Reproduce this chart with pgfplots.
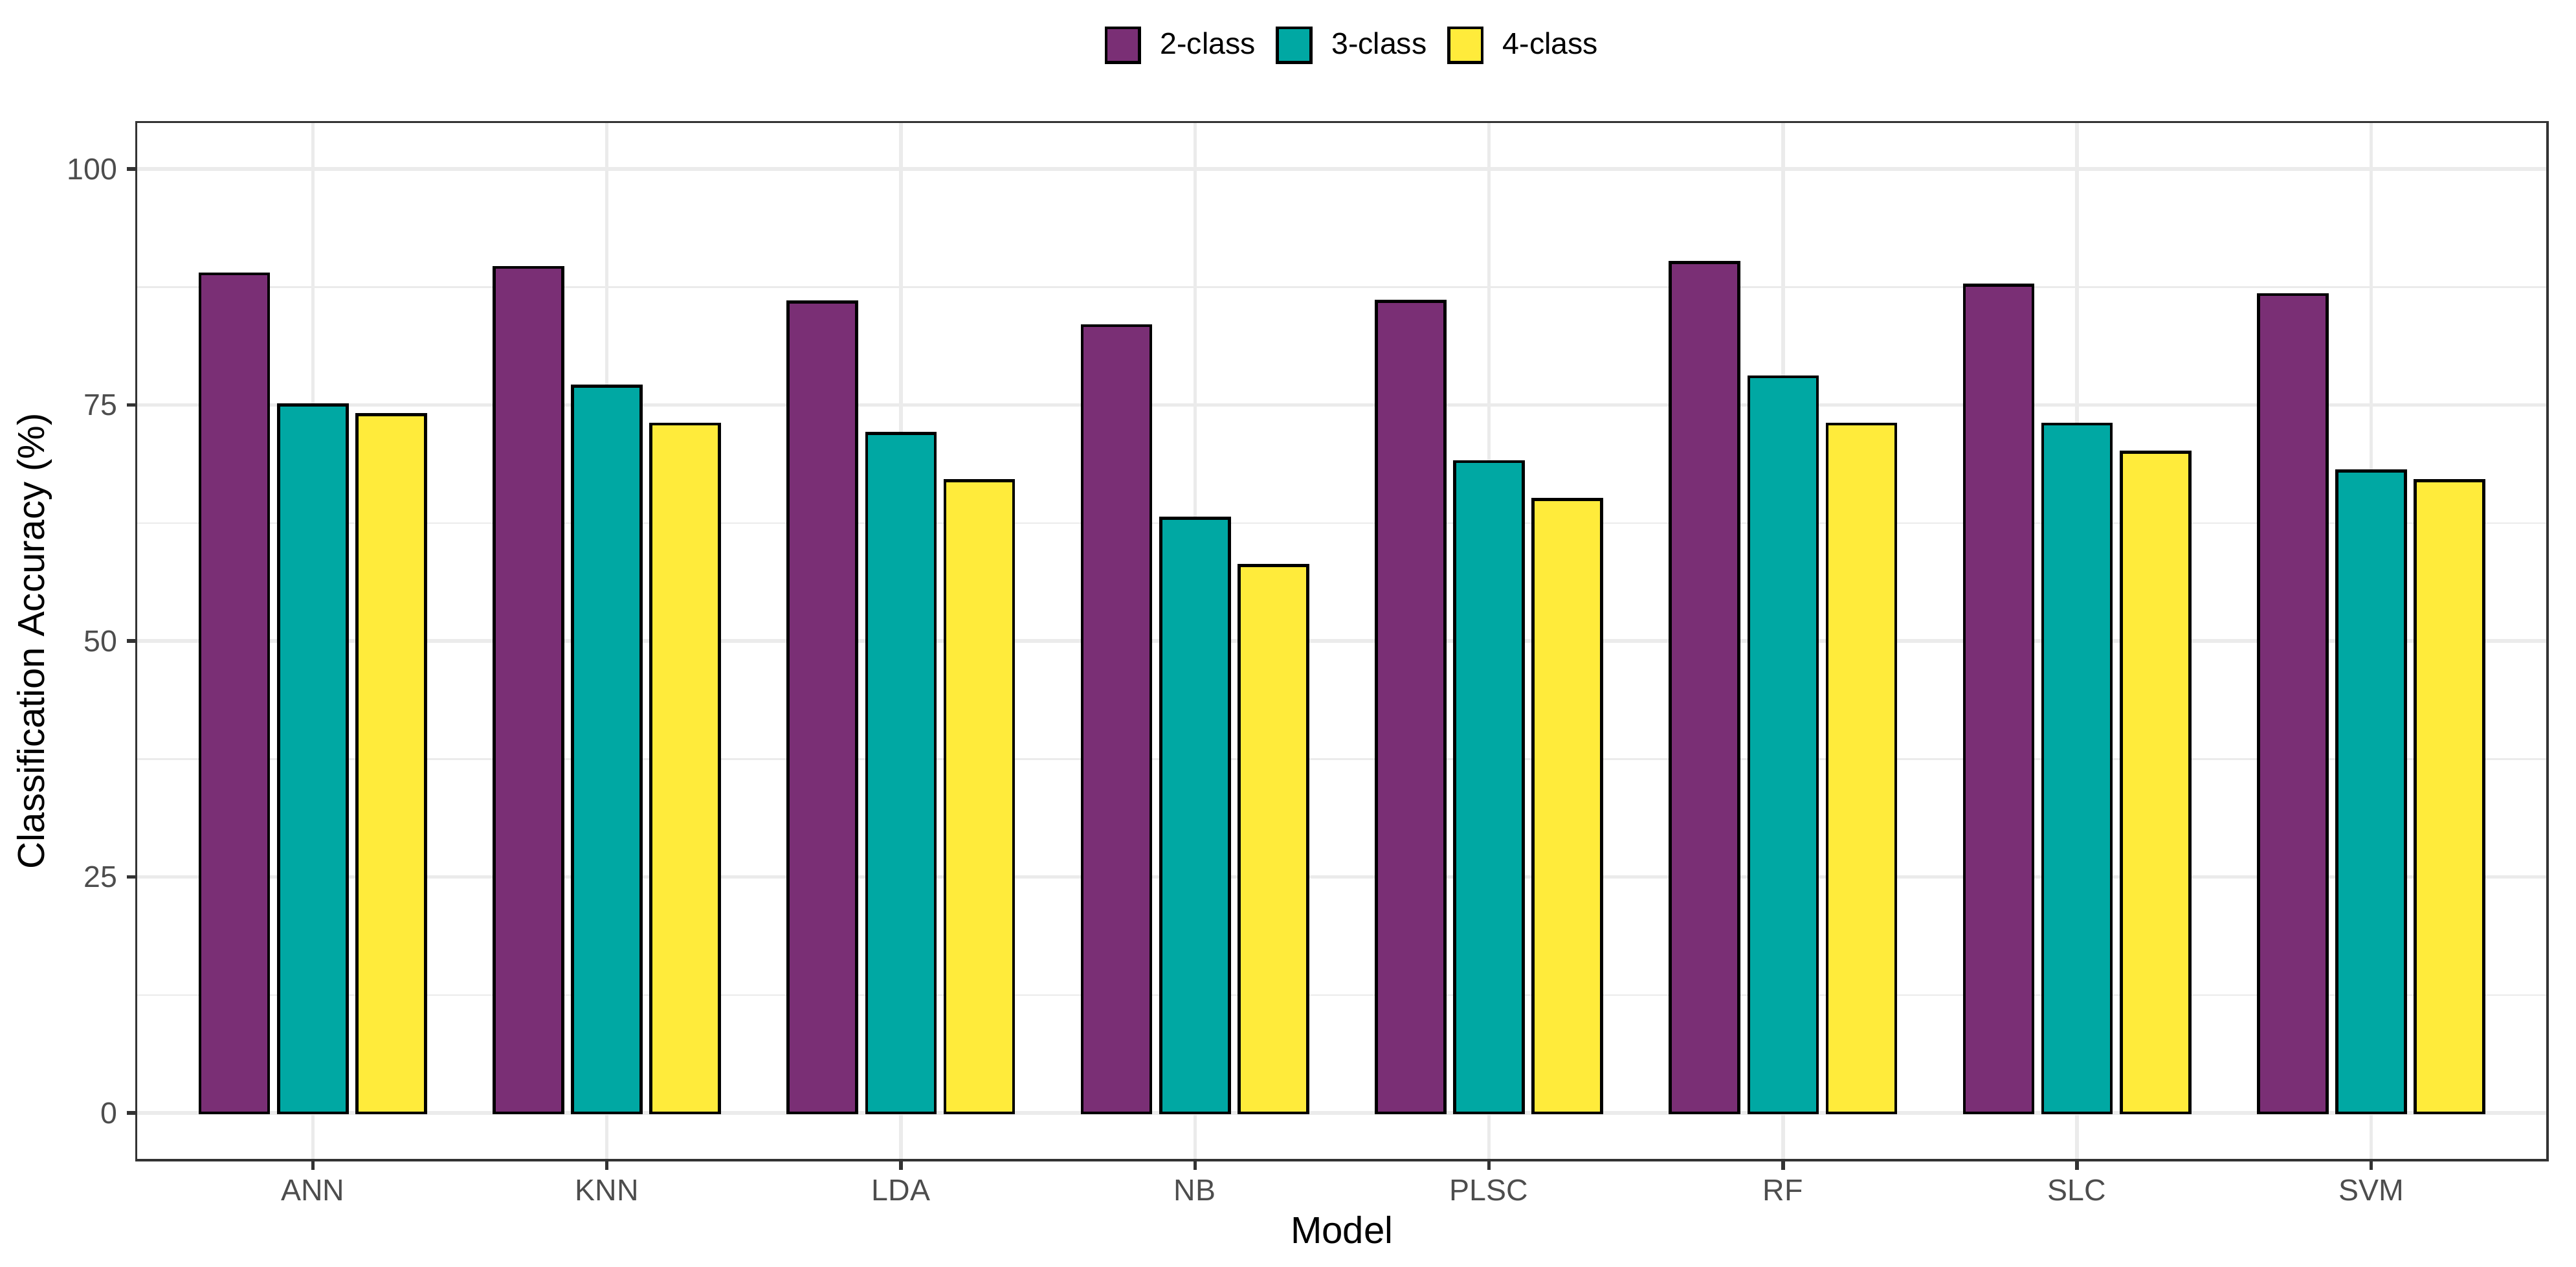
\documentclass[border=0pt]{standalone}
\usepackage{fontspec}
\setmainfont{Liberation Sans}
\usepackage{pgfplots}
\pgfplotsset{compat=1.18}
\usetikzlibrary{calc}

\definecolor{cTwo}{HTML}{7A2F75}
\definecolor{cThree}{HTML}{00A8A3}
\definecolor{cFour}{HTML}{FFEB3B}
\definecolor{gridc}{HTML}{EBEBEB}
\definecolor{framec}{HTML}{333333}
\definecolor{tickc}{HTML}{4D4D4D}

\begin{document}
\begin{tikzpicture}
\begin{axis}[
  name=ax, at={(0,0)}, anchor=south west,
  scale only axis, width=894.07bp, height=384.89bp,
  xmin=-0.6, xmax=7.6, ymin=-5, ymax=105,
  xtick={0,...,7},
  xticklabels={ANN,KNN,LDA,NB,PLSC,RF,SLC,SVM},
  ytick={0,25,50,75,100},
  minor ytick={12.5,37.5,62.5,87.5},
  xmajorgrids, ymajorgrids, yminorgrids,
  major grid style={gridc, line width=1.3bp},
  minor grid style={gridc, line width=0.65bp},
  axis line style={framec, line width=0.75bp},
  tick style={framec, line width=1.3bp},
  tick align=outside, major tick length=3.6bp, minor tick length=0pt,
  xtick pos=bottom, ytick pos=left,
  ticklabel style={font=\fontsize{11.2}{13}\selectfont, text=tickc, inner sep=0pt},
  yticklabel style={anchor=east, xshift=-3.3bp},
  xticklabel style={anchor=north, yshift=-3.5bp},
  /pgf/number format/assume math mode=true,
  xlabel={Model}, ylabel={Classification Accuracy (\%)},
  label style={font=\fontsize{14}{17}\selectfont, inner sep=0pt},
  xlabel style={at={(axis description cs:0.5,-0.0673)}, anchor=center},
  ylabel style={at={(axis description cs:-0.04225,0.5)}, anchor=center},
  ybar, bar width=0.2333,
  legend columns=3,
  legend style={at={(axis description cs:0.5039,1.074)}, anchor=center,
    draw=none, font=\fontsize{11.2}{13}\selectfont, inner sep=0pt,
    nodes={inner sep=0pt},
    /tikz/every odd column/.append style={column sep=7.1bp},
    /tikz/every even column/.append style={column sep=7.6bp}},
  legend image code/.code={\draw[#1, draw=black, line width=1.1bp] (0bp,-6.4bp) rectangle (12.4bp,6.4bp);},
]
\addplot[fill=cTwo, draw=black, line width=1.1bp, bar shift=-0.2667] coordinates {
  (0,88.9) (1,89.6) (2,85.9) (3,83.4) (4,86.0) (5,90.1) (6,87.7) (7,86.7)};
\addplot[fill=cThree, draw=black, line width=1.1bp, bar shift=0] coordinates {
  (0,75) (1,77) (2,72) (3,63) (4,69) (5,78) (6,73) (7,68)};
\addplot[fill=cFour, draw=black, line width=1.1bp, bar shift=0.2667] coordinates {
  (0,74) (1,73) (2,67) (3,58) (4,65) (5,73) (6,70) (7,67)};
\legend{2-class, 3-class, 4-class}
\end{axis}
\useasboundingbox ($(ax.south west)+(-50.57bp,-39.36bp)$) rectangle ($(ax.north east)+(10.56bp,45.19bp)$);
\end{tikzpicture}
\end{document}
